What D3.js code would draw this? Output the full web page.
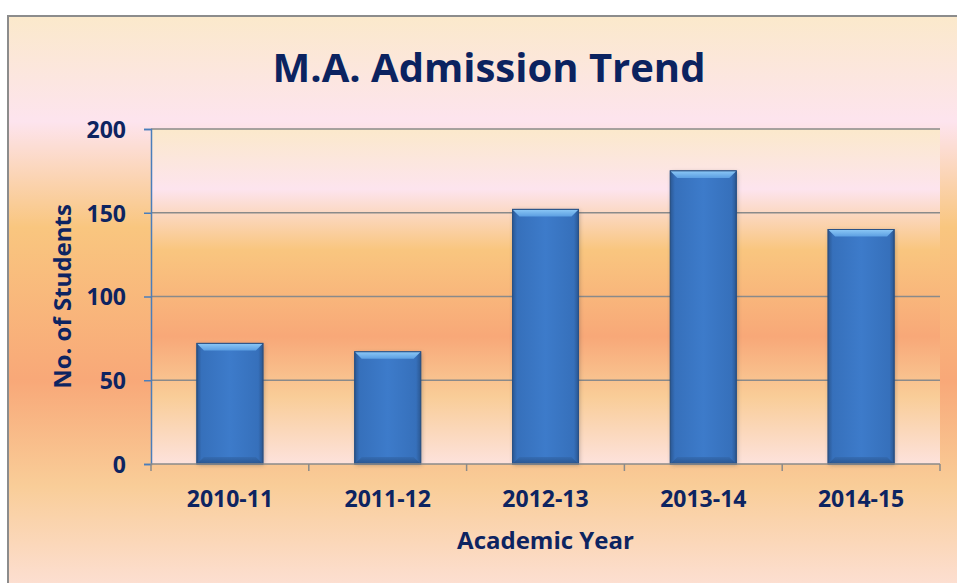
<!DOCTYPE html>
<html>
<head>
<meta charset="utf-8">
<script src="https://cdn.jsdelivr.net/npm/d3@7"></script>
<style>
  html, body { margin: 0; padding: 0; background: #ffffff; }
  svg { display: block; }
</style>
</head>
<body>
<svg id="chart" width="957" height="583"></svg>
<script>
// ---- data ----
const categories = ["2010-11", "2011-12", "2012-13", "2013-14", "2014-15"];
const students = [72, 67, 152, 175, 140];
const yTicks = [0, 50, 100, 150, 200];
const titleText = "M.A. Admission Trend";
const xTitle = "Academic Year";
const yTitle = "No. of Students";

// ---- layout ----
const W = 957, H = 583;
const plot = { left: 151, top: 129, right: 940, bottom: 464 };
const navy = "#0D2461";
const font = "'Open Sans', 'DejaVu Sans', sans-serif";

const svg = d3.select("#chart");
const defs = svg.append("defs");

// background gradient (shared by chart area and plot area)
const bgStops = [
  [0, "#FBE9CB"], [0.18, "#FDE4EE"], [0.36, "#F9C67F"],
  [0.62, "#F8A878"], [0.80, "#F9CD98"], [1, "#FDE2DC"]
];
function vGrad(id, stops) {
  const g = defs.append("linearGradient").attr("id", id)
    .attr("x1", 0).attr("y1", 0).attr("x2", 0).attr("y2", 1);
  stops.forEach(s => g.append("stop").attr("offset", s[0]).attr("stop-color", s[1]));
  return g;
}
vGrad("bgGrad", bgStops);
vGrad("plotGrad", bgStops);

// bar gradients
const barH = defs.append("linearGradient").attr("id", "barBody")
  .attr("x1", 0).attr("y1", 0).attr("x2", 1).attr("y2", 0);
[[0, "#2B5893"], [0.07, "#3670BB"], [0.5, "#3D7BCA"], [0.93, "#3670BB"], [1, "#2B5893"]]
  .forEach(s => barH.append("stop").attr("offset", s[0]).attr("stop-color", s[1]));
vGrad("barTop", [[0, "#8CC8F6"], [1, "#5C9FE2"]]);
vGrad("barBottom", [[0, "#3368AC"], [1, "#24497C"]]);

const shadow = defs.append("filter").attr("id", "shadow")
  .attr("x", "-20%").attr("y", "-20%").attr("width", "140%").attr("height", "140%");
shadow.append("feGaussianBlur").attr("stdDeviation", 2);

// chart area
svg.append("rect")
  .attr("x", 8).attr("y", 16).attr("width", W + 20).attr("height", H - 16 + 20)
  .attr("fill", "url(#bgGrad)")
  .attr("stroke", "#8C8C8C").attr("stroke-width", 2);

// plot area
svg.append("rect")
  .attr("x", plot.left).attr("y", plot.top)
  .attr("width", plot.right - plot.left).attr("height", plot.bottom - plot.top)
  .attr("fill", "url(#plotGrad)");

// scales
const x = d3.scaleBand().domain(categories)
  .range([plot.left, plot.right]).paddingInner(0.582).paddingOuter(0.291);
const xb = d3.scaleBand().domain(categories).range([plot.left, plot.right]).padding(0);
const y = d3.scaleLinear().domain([0, 200]).range([plot.bottom, plot.top]);

// gridlines
svg.append("g").selectAll("line").data(yTicks.filter(t => t > 0)).join("line")
  .attr("x1", plot.left).attr("x2", plot.right)
  .attr("y1", d => y(d)).attr("y2", d => y(d))
  .attr("stroke", "#8A8A8A").attr("stroke-width", 1.4);

// bars
const bars = svg.append("g").selectAll("g").data(categories.map((c, i) => ({ c, v: students[i] }))).join("g");
bars.append("rect")
  .attr("x", d => x(d.c) + 1).attr("y", d => y(d.v) + 1)
  .attr("width", x.bandwidth()).attr("height", d => y(0) - y(d.v))
  .attr("fill", "#3A3A3A").attr("opacity", 0.35).attr("filter", "url(#shadow)");
bars.append("rect")
  .attr("x", d => x(d.c)).attr("y", d => y(d.v))
  .attr("width", x.bandwidth()).attr("height", d => y(0) - y(d.v))
  .attr("fill", "url(#barBody)")
  .attr("stroke", "#2A5286").attr("stroke-width", 1);
const bev = 7;
bars.append("path")
  .attr("d", d => {
    const x0 = x(d.c), x1 = x0 + x.bandwidth(), t = y(d.v);
    return `M${x0},${t}L${x1},${t}L${x1 - bev},${t + bev}L${x0 + bev},${t + bev}Z`;
  })
  .attr("fill", "url(#barTop)");
bars.append("path")
  .attr("d", d => {
    const x0 = x(d.c), x1 = x0 + x.bandwidth(), b = y(0);
    return `M${x0},${b}L${x1},${b}L${x1 - bev},${b - bev}L${x0 + bev},${b - bev}Z`;
  })
  .attr("fill", "url(#barBottom)").attr("opacity", 0.7);
bars.append("rect")
  .attr("x", d => x(d.c)).attr("y", d => y(d.v))
  .attr("width", x.bandwidth()).attr("height", d => y(0) - y(d.v))
  .attr("fill", "none").attr("stroke", "#2A5286").attr("stroke-width", 1);

// y axis
const yAxis = svg.append("g").attr("transform", `translate(${plot.left},0)`)
  .call(d3.axisLeft(y).tickValues(yTicks).tickSize(7).tickPadding(18).tickFormat(d3.format("d")));
yAxis.select(".domain").attr("stroke", "#4A7EBB").attr("stroke-width", 1.5);
yAxis.selectAll(".tick line").attr("stroke", "#4A7EBB").attr("stroke-width", 1.5);
yAxis.selectAll(".tick text")
  .attr("fill", navy).attr("font-family", font).attr("font-weight", 700).attr("font-size", 23)
  .attr("dy", "0.36em");

// x axis (gray line, ticks at category boundaries)
const xAxisG = svg.append("g");
xAxisG.append("line")
  .attr("x1", plot.left).attr("x2", plot.right).attr("y1", y(0)).attr("y2", y(0))
  .attr("stroke", "#8A8A8A").attr("stroke-width", 1.5);
const boundaries = categories.map(c => xb(c)).concat([xb(categories[categories.length - 1]) + xb.bandwidth()]);
xAxisG.selectAll("line.tk").data(boundaries).join("line").attr("class", "tk")
  .attr("x1", d => d).attr("x2", d => d).attr("y1", y(0)).attr("y2", y(0) + 7)
  .attr("stroke", "#8A8A8A").attr("stroke-width", 1.5);
xAxisG.selectAll("text").data(categories).join("text")
  .attr("x", d => xb(d) + xb.bandwidth() / 2).attr("y", y(0) + 43)
  .attr("text-anchor", "middle")
  .attr("fill", navy).attr("font-family", font).attr("font-weight", 700).attr("font-size", 23)
  .text(d => d);

// titles
svg.append("text").attr("x", 489).attr("y", 82).attr("text-anchor", "middle")
  .attr("fill", "#0B2360").attr("font-family", font).attr("font-weight", 700).attr("font-size", 40)
  .text(titleText);
svg.append("text").attr("x", (plot.left + plot.right) / 2).attr("y", 549).attr("text-anchor", "middle")
  .attr("fill", navy).attr("font-family", font).attr("font-weight", 700).attr("font-size", 24)
  .text(xTitle);
svg.append("text").attr("transform", `translate(71,${(plot.top + plot.bottom) / 2}) rotate(-90)`)
  .attr("text-anchor", "middle")
  .attr("fill", navy).attr("font-family", font).attr("font-weight", 700).attr("font-size", 24)
  .text(yTitle);
</script>
</body>
</html>
